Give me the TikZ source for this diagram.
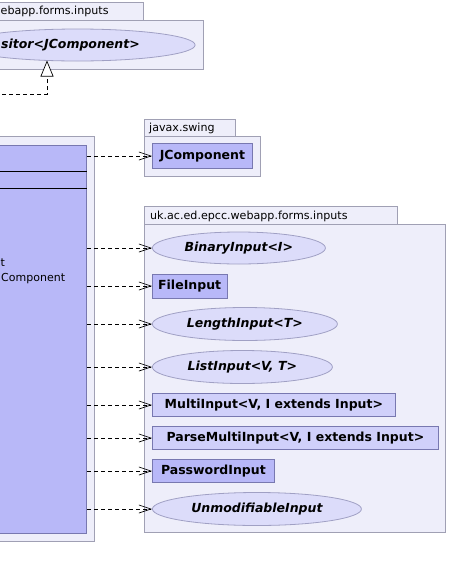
\documentclass[tikz,border=0pt]{standalone}
\usepackage{fontspec}
\setmainfont{DejaVu Sans}
\usetikzlibrary{arrows.meta,shapes.geometric}
\definecolor{pkgfill}{RGB}{238,238,250}
\definecolor{pkgline}{RGB}{160,160,180}
\definecolor{clsfill}{RGB}{184,184,248}
\definecolor{clsline}{RGB}{120,120,176}
\definecolor{litefill}{RGB}{208,208,250}
\definecolor{ellfill}{RGB}{220,220,250}
\definecolor{ellline}{RGB}{160,160,196}
\begin{document}
\begin{tikzpicture}[x=1pt,y=-1pt,
  pkg/.style={draw=pkgline,fill=pkgfill,line width=0.8pt},
  pkglabel/.style={font=\fontsize{11.1}{13}\selectfont,inner sep=0pt},
  cls/.style={draw=clsline,fill=clsfill,line width=0.8pt,font=\bfseries\fontsize{12.5}{14}\selectfont,inner sep=0pt,anchor=west},
  litecls/.style={cls,fill=litefill},
  iface/.style={ellipse,draw=ellline,fill=ellfill,line width=0.8pt,font=\bfseries\itshape\fontsize{12.5}{14}\selectfont,inner sep=0pt,anchor=west},
  dep/.style={draw=black,line width=0.7pt,dash pattern=on 4pt off 3pt,-{Straight Barb[length=12pt,width=8pt]}},
  real/.style={draw=black,line width=0.7pt,dash pattern=on 4pt off 3pt,-{Triangle[open,length=16pt,width=13pt,fill=white]}},
  plain/.style={font=\fontsize{11}{13}\selectfont,inner sep=0pt}
]
\useasboundingbox (0,0) rectangle (448,579);
\fill[white] (0,0) rectangle (448,579);

% top package (clipped)
\draw[pkg] (-5,2) rectangle (143,20);
\draw[pkg] (-5,20) rectangle (203,69);
\node[pkglabel,anchor=base west] (toplbl) at (0.5,14.5) {ebapp.forms.inputs};
\node[iface,anchor=center,minimum width=235pt,minimum height=32pt] (visitor) at (77.6,45) {};
\node[font=\bfseries\itshape\fontsize{12.5}{14}\selectfont,inner sep=0pt,anchor=east] (vislbl) at (140,45) {sitor<JComponent>};

% left package and main class (clipped)
\draw[pkg] (-5,136.5) rectangle (94,541);
\node[cls,anchor=north east,minimum width=100pt,minimum height=388pt] (main) at (87,145) {};
\draw[black,line width=0.8pt] (main.west |- 0,171.7) -- (main.east |- 0,171.7);
\draw[black,line width=0.8pt] (main.west |- 0,188) -- (main.east |- 0,188);
\node[plain,anchor=base west] (t1) at (0.5,266) {t};
\node[plain,anchor=base west] (t2) at (1,281) {Component};

% realization to visitor
\coordinate (r0) at (-5,94);
\coordinate (rt) at (47,60.5);
\draw[real] (r0) -| (rt);

% javax.swing package
\draw[pkg] (144,119.5) rectangle (235.5,136);
\draw[pkg] (144,136) rectangle (260.5,176);
\node[pkglabel,anchor=base west] (swlbl) at (149,131) {javax.swing};
\node[cls,minimum width=100pt,minimum height=25pt] (jc) at (152,156) {JComponent};

% inputs package
\draw[pkg] (144,206.7) rectangle (397.3,224.3);
\draw[pkg] (144,224.3) rectangle (445.7,532.3);
\node[pkglabel,anchor=base west] (inlbl) at (150,219) {uk.ac.ed.epcc.webapp.forms.inputs};

\node[iface,minimum width=173pt,minimum height=32pt] (binary) at (152,248) {BinaryInput<I>};
\node[cls,minimum width=74.5pt,minimum height=24pt] (file) at (152,286) {FileInput};
\node[iface,minimum width=185pt,minimum height=33pt] (length) at (152,324) {LengthInput<T>};
\node[iface,minimum width=180pt,minimum height=33pt] (list) at (152,367) {ListInput<V, T>};
\node[litecls,minimum width=243pt,minimum height=23.5pt] (multi) at (152,405) {MultiInput<V, I extends Input>};
\node[litecls,minimum width=286pt,minimum height=23.5pt] (parse) at (152,438) {ParseMultiInput<V, I extends Input>};
\node[cls,minimum width=122pt,minimum height=23.5pt] (password) at (152,471) {PasswordInput};
\node[iface,minimum width=209pt,minimum height=33pt] (unmod) at (152,509) {UnmodifiableInput};

% dependencies
\foreach \n in {jc,binary,file,length,list,multi,parse,password,unmod}{
  \draw[dep] (main.east |- \n.west) -- (\n.west);
}
\end{tikzpicture}
\end{document}
